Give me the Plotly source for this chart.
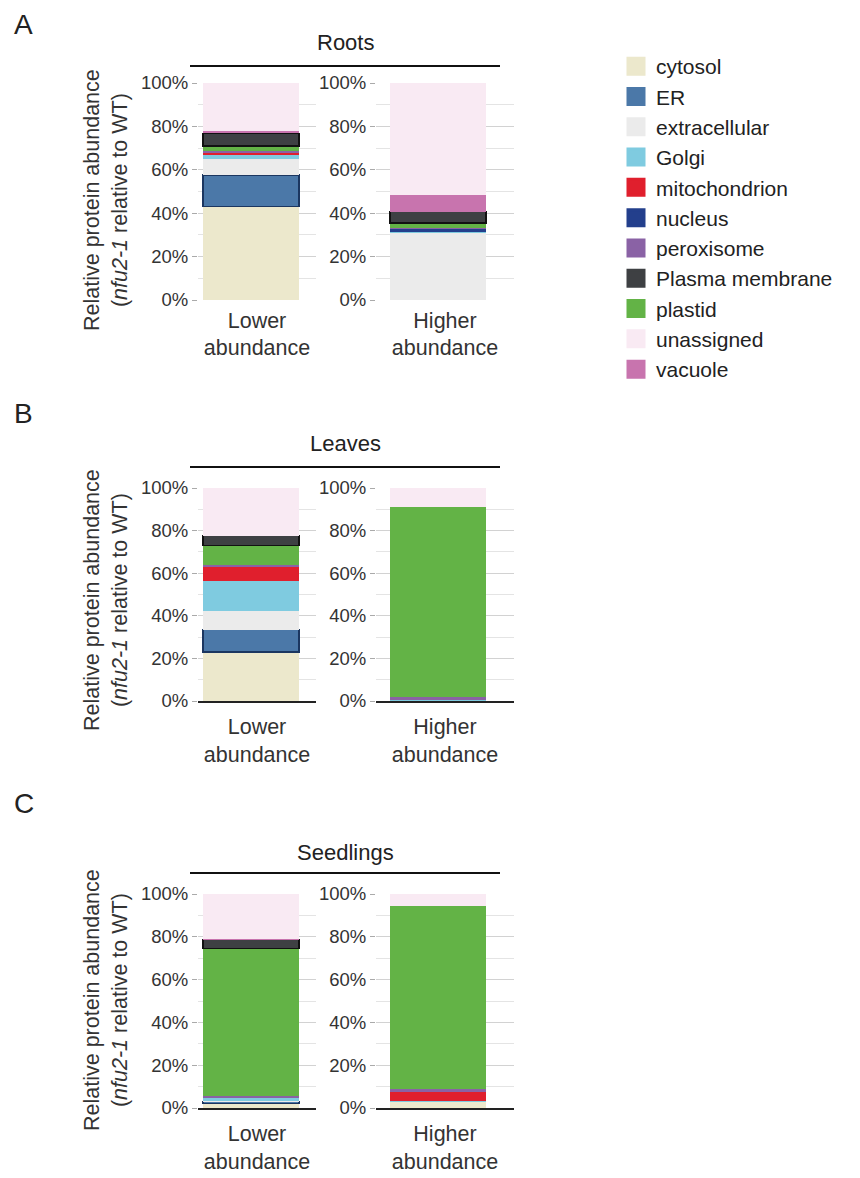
import plotly.graph_objects as go

# ---------------- data ----------------
stack_order = ["cytosol", "ER", "extracellular", "Golgi", "mitochondrion", "nucleus",
               "peroxisome", "plastid", "Plasma membrane", "vacuole", "unassigned"]
legend_order = ["cytosol", "ER", "extracellular", "Golgi", "mitochondrion", "nucleus",
                "peroxisome", "Plasma membrane", "plastid", "unassigned", "vacuole"]

panel_titles = ["Roots", "Leaves", "Seedlings"]
panel_letters = ["A", "B", "C"]
bar_labels = ["Lower<br>abundance", "Higher<br>abundance"]
tick_values = [0, 20, 40, 60, 80, 100]
tick_labels = ["0%", "20%", "40%", "60%", "80%", "100%"]
minor_values = [10, 30, 50, 70, 90]

# values in stack order (percent)
roots_lower = [43.0, 14.6, 7.4, 1.8, 1.2, 0.2, 0.3, 2.5, 5.8, 1.0, 22.2]
roots_higher = [0.0, 0.0, 31.0, 0.3, 0.0, 1.8, 0.2, 2.2, 5.2, 7.6, 51.7]
leaves_lower = [23.0, 10.5, 8.8, 14.2, 6.3, 0.0, 1.0, 9.2, 4.6, 0.0, 22.4]
leaves_higher = [0.3, 0.0, 0.0, 0.2, 0.0, 0.0, 1.5, 89.3, 0.0, 0.0, 8.7]
seedlings_lower = [2.2, 0.8, 0.3, 1.4, 0.2, 0.0, 0.7, 69.0, 4.2, 0.4, 20.8]
seedlings_higher = [3.0, 0.0, 0.0, 0.3, 4.0, 0.0, 1.6, 85.5, 0.0, 0.0, 5.6]

panels = [(roots_lower, roots_higher),
          (leaves_lower, leaves_higher),
          (seedlings_lower, seedlings_higher)]

# ---------------- styles ----------------
colors = {
    "cytosol": "#ECE8CC",
    "ER": "#4B78A8",
    "extracellular": "#EBEBEB",
    "Golgi": "#7FCBE0",
    "mitochondrion": "#E01F2D",
    "nucleus": "#233F8C",
    "peroxisome": "#8A62A5",
    "Plasma membrane": "#3E4043",
    "plastid": "#63B346",
    "unassigned": "#F9EAF3",
    "vacuole": "#C874AE",
}
outlines = {"ER": ("#1B3660", 1.5), "Plasma membrane": ("#111111", 1.5)}

# page has an 8px body margin: map reference pixels onto the figure
OFF = 8
W, H = 860 - OFF, 1178 - OFF
FONT = "Liberation Sans, Arial, Helvetica, sans-serif"


def fx(p):
    return (p - OFF) / W


def fy(p):
    return 1 - (p - OFF) / H


panel_rows = [(300, 83), (701, 488), (1108, 894)]   # pixel rows of 0% and 100%
col_cols = [(198, 316), (376, 514)]                 # pixel columns of each plot area
bar_left = [203, 390]
bar_px = 96
title_rows = [42, 443, 852]
rule_rows = [66, 467, 873]
letter_rows = [25, 413, 803]
ytitle_rows = [200, 600, 1000]

fig = go.Figure()
layout_axes = {}

for p, pair in enumerate(panels):
    for c, vals in enumerate(pair):
        k = p * 2 + c + 1
        xa = "x" if k == 1 else f"x{k}"
        ya = "y" if k == 1 else f"y{k}"
        span = col_cols[c][1] - col_cols[c][0]
        off = (bar_left[c] - col_cols[c][0]) / span - 0.5
        wid = bar_px / span
        for cat, v in zip(stack_order, vals):
            lc, lw = outlines.get(cat, ("rgba(0,0,0,0)", 0))
            if v <= 0:
                lw = 0
            fig.add_trace(go.Bar(
                x=[bar_labels[c]], y=[v], name=cat,
                marker=dict(color=colors[cat], line=dict(color=lc, width=lw)),
                width=wid, offset=off, xaxis=xa, yaxis=ya, showlegend=False,
            ))
        dark_base = p > 0
        layout_axes["xaxis" if k == 1 else f"xaxis{k}"] = dict(
            domain=[fx(col_cols[c][0]), fx(col_cols[c][1])],
            anchor=ya, range=[-0.5, 0.5], showgrid=False, zeroline=False,
            showline=dark_base, linecolor="#222", linewidth=1.5,
            layer="below traces", automargin=False,
            tickfont=dict(size=21.5, color="#333", family=FONT),
            ticks="", ticklabelstandoff=5, fixedrange=True,
        )
        layout_axes["yaxis" if k == 1 else f"yaxis{k}"] = dict(
            domain=[fy(panel_rows[p][0]), fy(panel_rows[p][1])],
            anchor=xa, range=[0, 100], automargin=False,
            tickvals=tick_values, ticktext=tick_labels,
            tickfont=dict(size=18.5, color="#333", family=FONT),
            ticks="outside", ticklen=5, tickcolor="#aaa",
            showgrid=True, gridcolor="#d2d2d2", gridwidth=1,
            minor=dict(tickvals=minor_values, showgrid=True,
                       gridcolor="#e4e4e4", ticks=""),
            zeroline=False, showline=False, fixedrange=True,
        )

# legend entries (in legend order)
for cat in legend_order:
    fig.add_trace(go.Scatter(
        x=[None], y=[None], mode="markers", name=cat,
        marker=dict(symbol="square", size=16, color=colors[cat],
                    line=dict(color=colors[cat], width=3)),
        xaxis="x", yaxis="y", showlegend=True, hoverinfo="skip",
    ))

annotations = []
shapes = []
for p in range(3):
    annotations.append(dict(text=panel_letters[p], x=fx(12), y=fy(letter_rows[p]),
                            xref="paper", yref="paper", xanchor="left", yanchor="middle",
                            showarrow=False, font=dict(size=28, color="#222", family=FONT)))
    annotations.append(dict(text=panel_titles[p], x=fx(345), y=fy(title_rows[p]),
                            xref="paper", yref="paper", xanchor="center", yanchor="middle",
                            showarrow=False, font=dict(size=22, color="#222", family=FONT)))
    annotations.append(dict(text="Relative protein abundance<br>(<i>nfu2-1</i> relative to WT)",
                            x=fx(106), y=fy(ytitle_rows[p]), textangle=-90,
                            xref="paper", yref="paper", xanchor="center", yanchor="middle",
                            showarrow=False, font=dict(size=21.5, color="#333", family=FONT)))
    shapes.append(dict(type="line", xref="paper", yref="paper",
                       x0=fx(190), x1=fx(500), y0=fy(rule_rows[p]), y1=fy(rule_rows[p]),
                       line=dict(color="#111", width=2)))

fig.update_layout(
    width=W, height=H,
    margin=dict(l=0, r=0, t=0, b=0, autoexpand=False),
    barmode="stack",
    paper_bgcolor="white", plot_bgcolor="white",
    font=dict(family=FONT, color="#333"),
    legend=dict(x=fx(616), y=fy(46), xanchor="left", yanchor="top",
                font=dict(size=21, color="#222", family=FONT),
                itemwidth=30, bgcolor="rgba(0,0,0,0)", traceorder="normal",
                itemsizing="trace", tracegroupgap=0),
    annotations=annotations,
    shapes=shapes,
    **layout_axes,
)

fig.write_html("out.html")
